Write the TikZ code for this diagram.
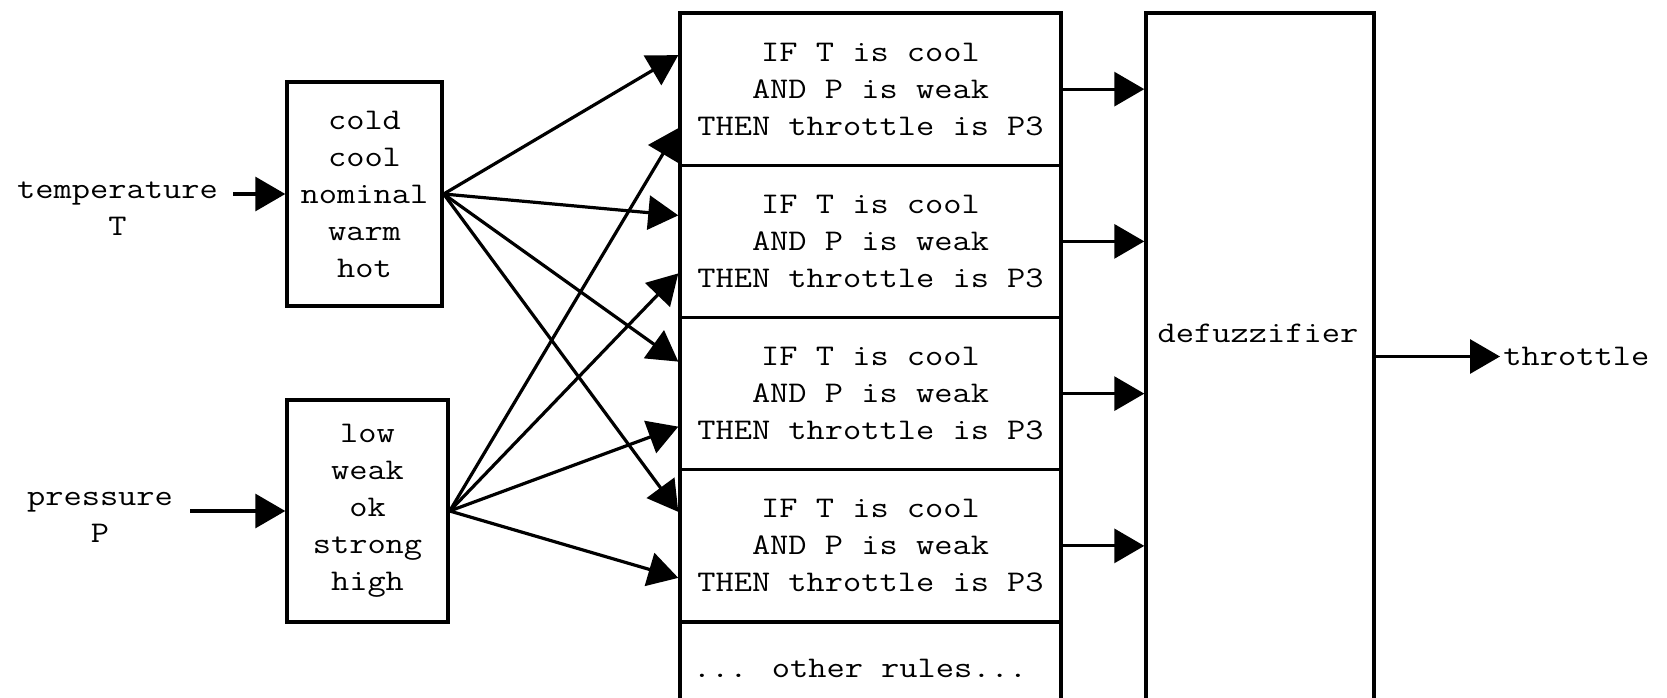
\documentclass[tikz,border=0pt]{standalone}
\usepackage{fontspec}
\newfontfamily\cour{Latin Modern Mono}[FakeStretch=1.18]
\usetikzlibrary{arrows.meta}

\begin{document}
\begin{tikzpicture}[x=0.5pt,y=-0.5pt,
  txt/.style={font=\cour\fontsize{15pt}{18.5pt}\selectfont, align=center, inner sep=0pt},
  box/.style={txt, draw, line width=1.7pt},
  rulebox/.style={box, minimum width=190.5pt, minimum height=76.125pt},
  conn/.style={line width=1.6pt, -{Triangle[length=15pt,width=17pt]}}]
\useasboundingbox (0,0) rectangle (1667,697);

% fuzzifier inputs
\node[txt] (tlabel) at (117.5,209) {temperature\\T};
\node[txt] (plabel) at (100,517) {pressure\\P};
\coordinate (tin) at (233,194);
\coordinate (pin) at (190,511);

% membership sets
\node[box, minimum width=77.5pt, minimum height=112pt] (tbox) at (364.5,194)
  {cold\\cool\\nominal\\warm\\hot};
\node[box, minimum width=80.5pt, minimum height=111pt] (pbox) at (367.5,511)
  {low\\weak\\ok\\strong\\high};

% rule base
\node[rulebox] (r1) at (870.5,89.125) {IF T is cool\\AND P is weak\\THEN throttle is P3};
\node[rulebox] (r2) at (870.5,241.375) {IF T is cool\\AND P is weak\\THEN throttle is P3};
\node[rulebox] (r3) at (870.5,393.625) {IF T is cool\\AND P is weak\\THEN throttle is P3};
\node[rulebox] (r4) at (870.5,545.875) {IF T is cool\\AND P is weak\\THEN throttle is P3};
\node[box, minimum width=190.5pt, minimum height=46pt] (r5) at (870.5,668) {\hspace*{-10.5pt}... other rules...};

% defuzzifier and output
\node[box, minimum width=114pt, minimum height=343.5pt] (defuzz) at (1260,356.5) {};
\node[txt] (dtext) at (1258,333) {defuzzifier};
\node[txt, anchor=west, inner xsep=1.5pt] (out) at (1500,356.5) {throttle};

% connectors
\draw[conn] (tin) -- (tbox.west);
\draw[conn] (pin) -- (pbox.west);

\draw[conn] (tbox.east) -- ([yshift=17pt]r1.west);
\draw[conn] (tbox.east) -- ([yshift=13pt]r2.west);
\draw[conn] (tbox.east) -- ([yshift=16pt]r3.west);
\draw[conn] (tbox.east) -- ([yshift=17pt]r4.west);

\draw[conn] (pbox.east) -- ([yshift=-19.5pt]r1.west);
\draw[conn] (pbox.east) -- ([yshift=-16pt]r2.west);
\draw[conn] (pbox.east) -- ([yshift=-16.5pt]r3.west);
\draw[conn] (pbox.east) -- ([yshift=-16pt]r4.west);

\foreach \i in {1,...,4}
  \draw[conn] (r\i.east) -- (defuzz.west |- r\i.east);

\draw[conn] (defuzz.east) -- (defuzz.east -| out.west);
\end{tikzpicture}
\end{document}
